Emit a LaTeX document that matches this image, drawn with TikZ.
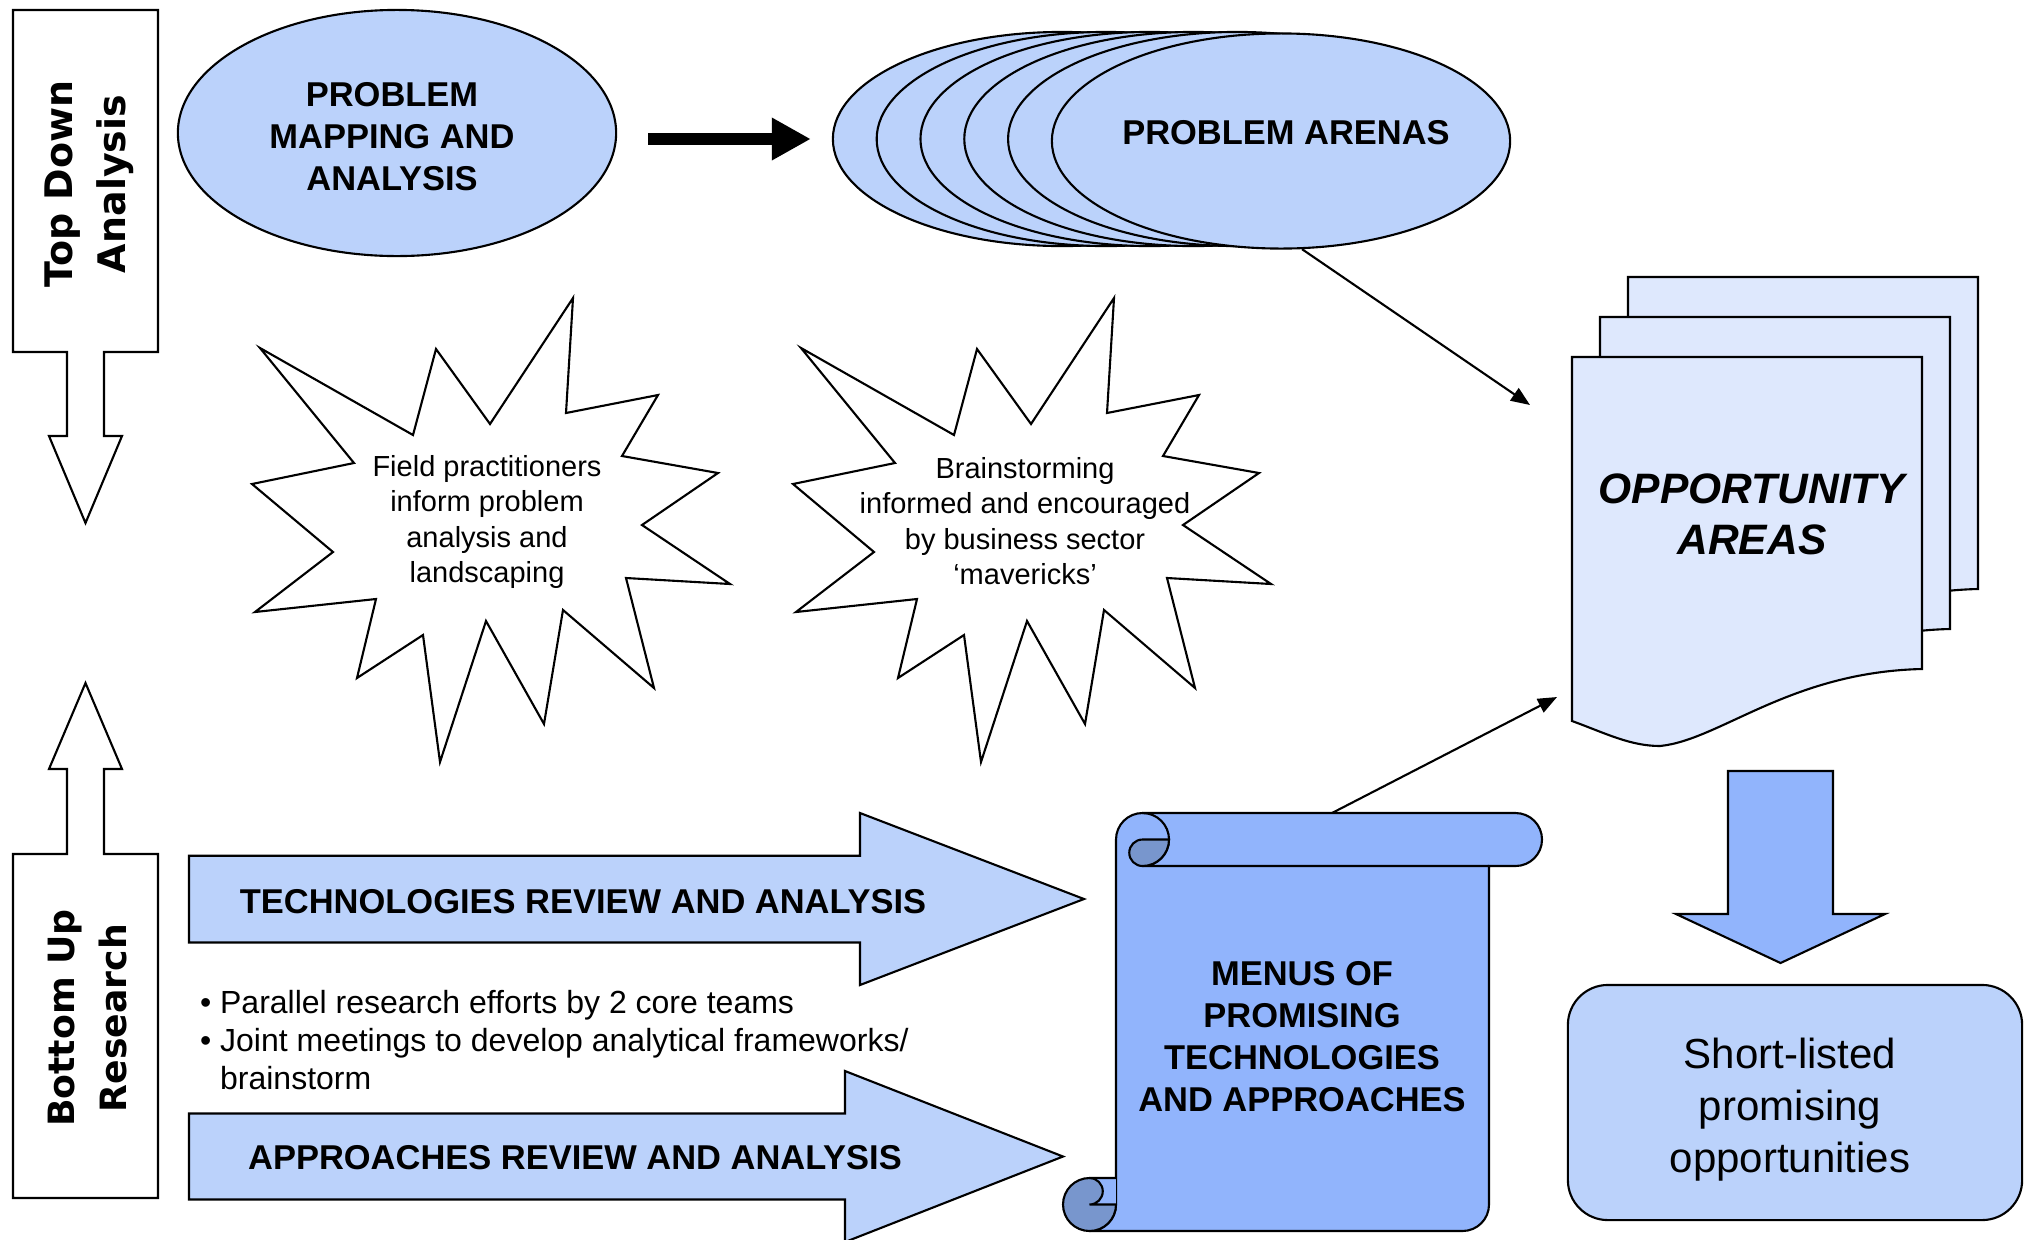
\documentclass[tikz,border=0pt]{standalone}
\usepackage{fontspec}
\setmainfont{Liberation Sans}
\newfontfamily\verdana{DejaVu Sans}
\usepackage{tikz}
\usetikzlibrary{shapes.geometric,arrows.meta}

\definecolor{ovalblue}{RGB}{187,210,251}
\definecolor{menublue}{RGB}{145,180,252}
\definecolor{paperblue}{RGB}{222,232,253}
\definecolor{curlblue}{RGB}{120,150,205}

\begin{document}
\begin{tikzpicture}
  [x=0.01cm, y=-0.01cm, line width=0.6pt,
  blockfill/.style={draw, fill=ovalblue},
  oval/.style={blockfill, ellipse, inner sep=0pt},
  bigtext/.style={font=\fontsize{9.8}{11.95}\selectfont\bfseries, align=center},
  startext/.style={font=\fontsize{8.25}{10.1}\selectfont, align=center},
  sidetext/.style={font=\verdana\fontsize{10.3}{14.8}\selectfont\bfseries, align=center, rotate=90},
  link/.style={-{Triangle[length=0.19cm, width=0.15cm]}}]
  \useasboundingbox (0,0) rectangle (2028,1239);

  % side arrows
  \draw[fill=white] (13,10) -- (158,10) -- (158,352) -- (104,352) -- (104,436) -- (122,436) -- (85.5,523)
    -- (49,436) -- (67,436) -- (67,352) -- (13,352) -- cycle;
  \node[sidetext, font=\verdana\fontsize{10.8}{15.2}\selectfont\bfseries] (topdown) at (89,184) {Top Down\\Analysis};
  \draw[fill=white] (13,1198) -- (158,1198) -- (158,854) -- (104,854) -- (104,769) -- (122,769) -- (85.5,683)
    -- (49,769) -- (67,769) -- (67,854) -- (13,854) -- cycle;
  \node[sidetext] (bottomup) at (88,1018) {Bottom Up\\Research};

  % problem mapping and arenas
  \node[oval, minimum width=4.38cm, minimum height=2.46cm] (pma) at (397,133) {};
  \node[bigtext] (pmatext) at (392,137) {PROBLEM\\MAPPING AND\\ANALYSIS};
  \foreach \i in {1,...,5}
    \node[oval, minimum width=4.58cm, minimum height=2.14cm] (arena\i) at ({1062+43.8*(\i-1)},139) {};
  \node[oval, minimum width=4.58cm, minimum height=2.15cm] (arenas) at (1281,141) {};
  \node[bigtext] (arenastext) at (1286,133) {PROBLEM ARENAS};
  \draw[line width=0.127cm, -{Triangle[length=0.39cm, width=0.40cm]}, shorten <=0.31cm, shorten >=0.21cm]
    (pma.east |- arena1.west) -- (arena1.west);

  % opportunity areas
  \foreach \k in {2,1,0}
    \draw[fill=paperblue, shift={({28*\k},{-40*\k})}] (1572,357) -- (1922,357) -- (1922,669)
      .. controls (1790,672) and (1720,740) .. (1660,746)
      .. controls (1630,746) and (1605,733) .. (1572,721) -- cycle;
  \node[font=\fontsize{12.1}{14.5}\selectfont\bfseries\itshape, align=center] (opp) at (1752,514) {OPPORTUNITY\\AREAS};

  % bursts
  \foreach \dx in {0,541}
    \draw[shift={(\dx,0)}] (573,298) -- (566,413) -- (658,395) -- (622,456) -- (718,473) -- (642,525)
      -- (730,584) -- (626,578) -- (654,688) -- (563,610) -- (544,724) -- (486,621) -- (440,762)
      -- (423,635) -- (357,678) -- (376,599) -- (255,612) -- (333,552) -- (252,484) -- (354,463)
      -- (260,348) -- (413,435) -- (436,349) -- (490,424) -- cycle;
  \node[startext] (field) at (487,522) {Field practitioners\\inform problem\\analysis and\\landscaping};
  \node[startext] (brain) at (1025,521) {Brainstorming\\informed and encouraged\\by business sector\\‘mavericks’};

  % review arrows
  \draw[blockfill] (189,855.7) -- (860,855.7) -- (860,813) -- (1084,899) -- (860,985) -- (860,942.5)
    -- (189,942.5) -- cycle;
  \node[bigtext] (tech) at (583,902) {TECHNOLOGIES REVIEW AND ANALYSIS};
  \draw[blockfill] (189,1113.5) -- (845,1113.5) -- (845,1071) -- (1063,1156.5) -- (845,1242) -- (845,1199.5)
    -- (189,1199.5) -- cycle;
  \node[bigtext] (appr) at (575,1158) {APPROACHES REVIEW AND ANALYSIS};
  \node[font=\fontsize{9.1}{10.8}\selectfont, align=left, anchor=west, inner sep=0pt] (bullets) at (199,1040)
    {\textbullet\ Parallel research efforts by 2 core teams\\
     \textbullet\ Joint meetings to develop analytical frameworks/\\
     \phantom{\textbullet\ }brainstorm};

  % scroll
  \draw[fill=menublue] (1116,1204.5) -- (1116,839.5) arc[start angle=180, end angle=270, radius=26.5]
    -- (1515.5,813) arc[start angle=270, end angle=450, radius=26.5] -- (1489,866) -- (1489,1204.5)
    arc[start angle=0, end angle=90, radius=26.5] -- (1089.5,1231) arc[start angle=90, end angle=0, radius=26.5] -- cycle;
  \draw (1142.5,813) arc[start angle=270, end angle=450, radius=26.5] -- (1489,866);
  \filldraw[fill=curlblue] (1142.5,839.5) arc[start angle=270, end angle=90, radius=13.25]
    arc[start angle=90, end angle=0, radius=26.5] -- cycle;
  \fill[curlblue] (1089.5,1204.5) circle[radius=26.5];
  \fill[menublue] (1089.5,1178) rectangle (1116,1204.5);
  \fill[curlblue] (1089.5,1178) arc[start angle=-90, end angle=90, radius=13.25] -- cycle;
  \draw (1116,1204.5) arc[start angle=0, end angle=270, radius=26.5] -- (1116,1178);
  \draw (1089.5,1178) arc[start angle=-90, end angle=90, radius=13.25] -- (1116,1204.5);
  \node[bigtext] (menus) at (1302,1037) {MENUS OF\\PROMISING\\TECHNOLOGIES\\AND APPROACHES};

  % connectors to opportunity areas
  \coordinate (oppin) at (1530,405);
  \coordinate (oppmenu) at (1557,697);
  \coordinate (menutop) at (1332,813);
  \draw[link] (arenas.-79) -- (oppin);
  \draw[link] (menutop) -- (oppmenu);

  % short list
  \draw[fill=menublue] (1728,771) -- (1833,771) -- (1833,914) -- (1885,914) -- (1780.5,963) -- (1676,914)
    -- (1728,914) -- cycle;
  \node[draw, fill=ovalblue, rounded corners=0.4cm, minimum width=4.54cm, minimum height=2.35cm] (short)
    at (1795,1102.5) {};
  \node[align=center, font=\fontsize{11.95}{14.8}\selectfont] (shorttext) at (1790,1110)
    {Short-listed\\promising\\opportunities};
\end{tikzpicture}
\end{document}
